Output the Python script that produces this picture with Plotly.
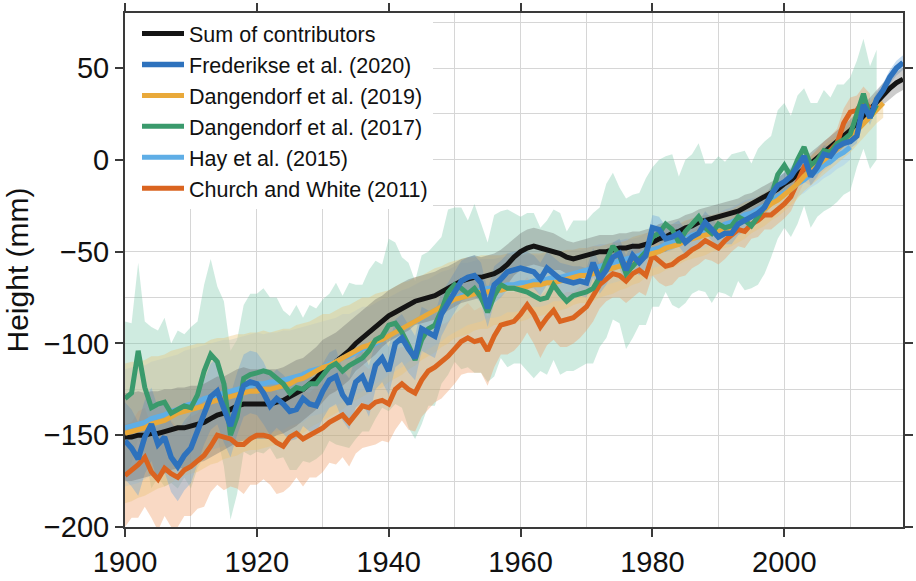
import plotly.graph_objects as go

# ---------------- data (mm), yearly values ----------------
start_year = 1900

sum_mean = [
    -151, -151, -150, -150, -149, -149, -148, -147, -146, -146,
    -145, -144, -143, -141, -139, -138, -136, -134, -133, -133,
    -133, -133, -133, -132, -131, -129, -127, -125, -122, -119,
    -115, -112, -110, -107, -104, -100, -97, -94, -91, -88,
    -85, -83, -81, -79, -77, -76, -75, -74, -72, -70,
    -68, -66, -65, -64, -64, -63, -62, -60, -57, -53,
    -50, -48, -47, -48, -49, -50, -51, -53, -54, -53,
    -52, -51, -50, -50, -49, -48, -48, -47, -47, -46,
    -45, -43, -42, -40, -39, -37, -36, -34, -33, -32,
    -31, -30, -29, -28, -26, -24, -22, -20, -18, -16,
    -13, -11, -8, -5, -2, 1, 4, 7, 10, 13,
    16, 20, 24, 28, 32, 36, 39, 42, 44]
sum_unc = [
    24, 24, 24, 23, 23, 23, 23, 22, 22, 22,
    22, 21, 21, 21, 21, 20, 20, 20, 20, 19,
    19, 19, 19, 18, 18, 18, 18, 17, 17, 17,
    17, 16, 16, 16, 16, 15, 15, 15, 15, 14,
    14, 14, 14, 14, 13, 13, 13, 13, 13, 12,
    12, 12, 12, 12, 11, 11, 11, 11, 11, 10,
    10, 10, 10, 10, 10, 10, 9, 9, 9, 9,
    9, 9, 9, 9, 8, 8, 8, 8, 8, 8,
    8, 8, 8, 7, 7, 7, 7, 7, 7, 7,
    7, 7, 7, 7, 7, 6, 6, 6, 6, 6,
    6, 6, 6, 6, 6, 6, 6, 6, 6, 6,
    6, 6, 6, 6, 6, 6, 6, 6, 6]

fred_mean = [
    -153, -157, -163, -151, -144, -155, -151, -162, -167, -161,
    -157, -147, -137, -129, -126, -136, -145, -133, -123, -121,
    -122, -127, -134, -130, -133, -137, -136, -130, -133, -134,
    -126, -120, -118, -128, -133, -121, -118, -126, -112, -108,
    -115, -100, -97, -103, -108, -92, -94, -96, -84, -78,
    -72, -66, -64, -63, -67, -81, -68, -65, -61, -60,
    -59, -60, -61, -65, -59, -62, -65, -66, -67, -66,
    -67, -56, -65, -60, -53, -51, -60, -52, -56, -52,
    -37, -38, -43, -42, -40, -45, -42, -40, -34, -38,
    -42, -40, -40, -35, -33, -31, -29, -26, -19, -14,
    -12, -9, -4, 2, -9, -4, 3, 2, 7, 9,
    10, 13, 30, 23, 33, 38, 45, 50, 53]
fred_unc = [
    21, 21, 20, 20, 20, 20, 19, 19, 19, 19,
    19, 18, 18, 18, 18, 18, 17, 17, 17, 17,
    17, 17, 16, 16, 16, 16, 16, 15, 15, 15,
    15, 15, 15, 14, 14, 14, 14, 14, 13, 13,
    13, 13, 13, 13, 12, 12, 12, 12, 12, 11,
    11, 11, 11, 11, 11, 10, 10, 10, 10, 10,
    10, 10, 9, 9, 9, 9, 9, 9, 9, 8,
    8, 8, 8, 8, 8, 8, 8, 7, 7, 7,
    7, 7, 7, 7, 7, 7, 6, 6, 6, 6,
    6, 6, 6, 6, 6, 5, 5, 5, 5, 5,
    5, 5, 5, 5, 5, 5, 5, 5, 4, 4,
    4, 4, 4, 4, 4, 4, 4, 4, 4]

d19_mean = [
    -149, -148, -147, -146, -144, -143, -142, -140, -138, -137,
    -136, -135, -134, -132, -131, -130, -129, -128, -127, -126,
    -126, -125, -125, -124, -123, -122, -120, -119, -117, -115,
    -113, -112, -110, -108, -106, -104, -102, -101, -99, -98,
    -96, -94, -92, -90, -88, -86, -84, -82, -80, -78,
    -76, -75, -74, -73, -72, -72, -71, -71, -70, -70,
    -70, -69, -68, -68, -67, -67, -66, -65, -64, -63,
    -63, -62, -61, -60, -59, -58, -57, -55, -54, -52,
    -51, -50, -48, -47, -46, -44, -43, -42, -41, -40,
    -39, -38, -37, -35, -33, -31, -29, -27, -24, -22,
    -19, -16, -13, -9, -6, -3, 0, 3, 6, 9,
    12, 16, 20, 24, 28, 31]
d19_unc = [
    38, 38, 37, 37, 37, 36, 36, 36, 35, 35,
    35, 35, 34, 34, 34, 33, 33, 33, 32, 32,
    32, 32, 31, 31, 31, 30, 30, 30, 29, 29,
    29, 28, 28, 28, 27, 27, 27, 26, 26, 26,
    25, 25, 25, 24, 24, 23, 23, 23, 22, 22,
    21, 21, 21, 20, 20, 20, 19, 19, 19, 18,
    18, 18, 17, 17, 17, 16, 16, 16, 15, 15,
    15, 15, 14, 14, 14, 13, 13, 13, 13, 12,
    12, 12, 12, 12, 11, 11, 11, 11, 11, 10,
    10, 10, 10, 10, 10, 9, 9, 9, 9, 9,
    9, 9, 8, 8, 8, 8, 8, 8, 8, 8,
    8, 8, 8, 8, 8, 8]

d17_mean = [
    -130, -127, -104, -124, -135, -133, -132, -138, -136, -134,
    -135, -128, -115, -106, -110, -122, -150, -140, -119, -117,
    -116, -115, -116, -119, -122, -127, -124, -125, -122, -122,
    -118, -113, -111, -115, -112, -110, -108, -104, -98, -96,
    -90, -89, -94, -101, -109, -98, -92, -90, -82, -72,
    -68, -70, -73, -70, -75, -83, -74, -68, -70, -70,
    -71, -72, -74, -76, -75, -68, -73, -77, -74, -73,
    -72, -70, -64, -55, -47, -52, -62, -58, -54, -50,
    -42, -40, -35, -38, -45, -39, -35, -31, -37, -40,
    -35, -37, -36, -31, -33, -36, -31, -26, -20, -8,
    -3, -9, 0, 7, -3, 0, 5, 4, 9, 11,
    14, 25, 36, 23, 30]
d17_unc = [
    42, 38, 48, 36, 44, 40, 46, 38, 43, 39,
    44, 40, 47, 52, 41, 45, 46, 42, 40, 44,
    43, 45, 41, 44, 40, 42, 45, 39, 43, 41,
    42, 40, 44, 41, 45, 42, 40, 44, 43, 39,
    47, 44, 41, 45, 43, 46, 42, 44, 40, 45,
    42, 44, 40, 46, 41, 38, 44, 40, 43, 41,
    40, 43, 45, 39, 42, 41, 44, 38, 41, 40,
    39, 41, 38, 42, 40, 37, 41, 39, 36, 40,
    38, 40, 37, 41, 36, 39, 38, 40, 35, 38,
    37, 36, 39, 35, 38, 34, 37, 36, 33, 35,
    34, 33, 35, 32, 34, 31, 33, 30, 32, 30,
    31, 29, 30, 28, 30]

hay_mean = [
    -146, -145, -144, -143, -141, -140, -139, -137, -136, -134,
    -133, -132, -130, -129, -128, -127, -126, -125, -124, -123,
    -122, -122, -121, -121, -120, -119, -118, -117, -115, -114,
    -113, -111, -110, -108, -107, -105, -103, -102, -100, -98,
    -96, -94, -92, -90, -88, -86, -84, -82, -80, -78,
    -76, -74, -73, -72, -71, -70, -70, -69, -68, -68,
    -67, -67, -66, -66, -65, -64, -64, -63, -62, -61,
    -60, -59, -58, -57, -56, -55, -54, -53, -52, -50,
    -49, -48, -46, -45, -44, -43, -41, -40, -39, -38,
    -37, -35, -34, -32, -30, -29, -27, -25, -23, -20,
    -18, -16, -13, -11, -8, -6, -3, -1, 2, 4,
    7]
hay_unc = [
    32, 32, 32, 31, 31, 31, 31, 30, 30, 30,
    30, 30, 29, 29, 29, 29, 28, 28, 28, 28,
    28, 27, 27, 27, 27, 26, 26, 26, 25, 25,
    25, 24, 24, 24, 23, 23, 23, 22, 22, 22,
    21, 21, 21, 20, 20, 20, 19, 19, 19, 18,
    18, 18, 17, 17, 17, 16, 16, 16, 15, 15,
    15, 15, 14, 14, 14, 13, 13, 13, 13, 12,
    12, 12, 12, 11, 11, 11, 11, 10, 10, 10,
    10, 10, 10, 9, 9, 9, 9, 9, 9, 8,
    8, 8, 8, 8, 8, 8, 7, 7, 7, 7,
    7, 7, 7, 7, 7, 7, 7, 7, 7, 7,
    7]

cw_mean = [
    -172, -169, -166, -162, -170, -174, -168, -171, -173, -169,
    -167, -164, -161, -156, -150, -151, -152, -155, -155, -152,
    -150, -150, -151, -154, -156, -151, -149, -152, -150, -148,
    -146, -143, -141, -139, -143, -138, -134, -135, -132, -131,
    -133, -125, -122, -125, -127, -120, -115, -113, -110, -107,
    -103, -99, -97, -99, -98, -104, -96, -90, -89, -88,
    -84, -79, -84, -91, -86, -82, -88, -87, -86, -83,
    -80, -74, -68, -65, -62, -63, -66, -62, -60, -63,
    -52, -55, -58, -57, -54, -52, -49, -47, -44, -46,
    -48, -44, -41, -38, -39, -35, -33, -30, -30, -27,
    -24, -20, -12, -4, -6, -2, 2, 5, 9, 20,
    26, 27, 32, 28]
cw_unc = [
    28, 26, 29, 27, 25, 28, 26, 29, 27, 25,
    27, 26, 28, 25, 27, 29, 26, 24, 27, 25,
    27, 24, 26, 28, 25, 27, 24, 26, 23, 25,
    24, 22, 25, 23, 24, 22, 23, 21, 23, 22,
    21, 22, 20, 22, 21, 20, 21, 19, 20, 19,
    19, 18, 19, 17, 18, 19, 17, 16, 17, 16,
    16, 15, 16, 17, 15, 16, 14, 15, 14, 14,
    13, 14, 13, 12, 13, 12, 12, 13, 12, 11,
    11, 12, 11, 11, 10, 11, 10, 10, 10, 9,
    9, 10, 9, 9, 9, 8, 9, 8, 8, 8,
    8, 8, 8, 8, 8, 8, 8, 8, 8, 8,
    8, 8, 8, 8]

x_tick_vals = [1900, 1920, 1940, 1960, 1980, 2000]
y_tick_vals = [-200, -150, -100, -50, 0, 50]

# name, mean, unc, line colour, band colour, legend rank
series = {
    "sum": ("Sum of contributors", sum_mean, sum_unc, "#141414", "rgba(105,105,105,0.34)", 1),
    "fred": ("Frederikse et al. (2020)", fred_mean, fred_unc, "#2E72BD", "rgba(100,160,220,0.36)", 2),
    "d19": ("Dangendorf et al. (2019)", d19_mean, d19_unc, "#E9A93A", "rgba(235,195,115,0.38)", 3),
    "d17": ("Dangendorf et al. (2017)", d17_mean, d17_unc, "#3A9A6C", "rgba(115,195,165,0.34)", 4),
    "hay": ("Hay et al. (2015)", hay_mean, hay_unc, "#5FAEE6", "rgba(160,200,238,0.38)", 5),
    "cw": ("Church and White (2011)", cw_mean, cw_unc, "#DA6420", "rgba(240,155,100,0.38)", 6),
}

for key, (nm, m, u, _, _, _) in series.items():
    assert len(m) == len(u), (key, len(m), len(u))

fig = go.Figure()

band_order = ["d17", "cw", "hay", "d19", "fred", "sum"]
for key in band_order:
    nm, m, u, lc, bc, rank = series[key]
    yrs = list(range(start_year, start_year + len(m)))
    upper = [a + b for a, b in zip(m, u)]
    lower = [a - b for a, b in zip(m, u)]
    fig.add_trace(go.Scatter(
        x=yrs + yrs[::-1], y=upper + lower[::-1],
        fill="toself", fillcolor=bc, mode="lines",
        line=dict(width=0, color=bc), hoverinfo="skip", showlegend=False))

line_order = ["sum", "cw", "hay", "d19", "d17", "fred"]
for key in line_order:
    nm, m, u, lc, bc, rank = series[key]
    yrs = list(range(start_year, start_year + len(m)))
    fig.add_trace(go.Scatter(
        x=yrs, y=m, mode="lines", name=nm, legendrank=rank,
        line=dict(color=lc, width=5.5 if key == "fred" else 5)))

font_family = "Liberation Sans, Arial, Helvetica, sans-serif"
grid_col = "#d6d6d6"
axis_col = "#3a3a3a"

fig.update_layout(
    width=916, height=581,
    margin=dict(l=125, r=3, t=12, b=43),
    paper_bgcolor="white", plot_bgcolor="white",
    font=dict(family=font_family, color="#111111"),
    showlegend=True,
    legend=dict(
        x=0, y=1, xanchor="left", yanchor="top",
        bgcolor="white", bordercolor="white", borderwidth=0,
        indentation=12, itemwidth=42,
        font=dict(size=21.5, family=font_family, color="#111111"),
        tracegroupgap=0),
    xaxis=dict(
        range=[1900, 2018], tickmode="array", tickvals=x_tick_vals,
        ticks="outside", ticklen=8, tickwidth=1.5, tickcolor=axis_col,
        showline=True, linecolor=axis_col, linewidth=2, mirror="ticks",
        showgrid=True, gridcolor=grid_col, gridwidth=1.2,
        minor=dict(dtick=10, tick0=1900, showgrid=True, gridcolor=grid_col, gridwidth=1.2, ticks=""),
        tickfont=dict(size=29, family=font_family, color="#111111"),
        zeroline=False),
    yaxis=dict(
        range=[-200, 80], tickmode="array", tickvals=y_tick_vals,
        ticks="outside", ticklen=8, tickwidth=1.5, tickcolor=axis_col,
        showline=True, linecolor=axis_col, linewidth=2, mirror="ticks",
        showgrid=True, gridcolor=grid_col, gridwidth=1.2,
        minor=dict(dtick=25, tick0=0, showgrid=True, gridcolor=grid_col, gridwidth=1.2, ticks=""),
        tickfont=dict(size=29, family=font_family, color="#111111"),
        title=dict(text="Height (mm)", font=dict(size=30, family=font_family, color="#111111"), standoff=6),
        zeroline=False),
)

fig.write_html("out.html")
